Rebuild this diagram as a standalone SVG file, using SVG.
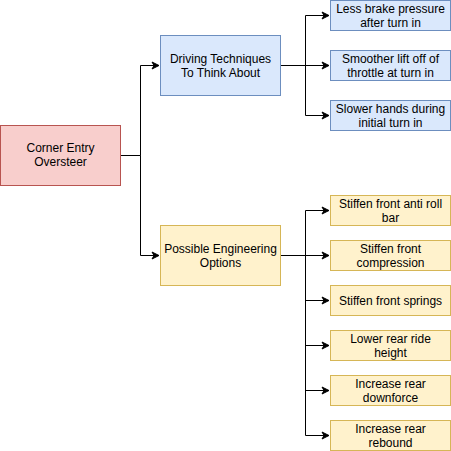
<svg xmlns="http://www.w3.org/2000/svg" width="451" height="451" viewBox="0 0 451 451">
<style>
text{font-family:"Liberation Sans",Arial,Helvetica,sans-serif;font-size:12px;fill:#000;text-anchor:middle}
.blue{fill:#dae8fc;stroke:#6c8ebf;stroke-width:1}
.yel{fill:#fff2cc;stroke:#d6b656;stroke-width:1}
.red{fill:#f8cecc;stroke:#b85450;stroke-width:1}
.c{fill:none;stroke:#000;stroke-width:1;marker-end:url(#arr)}
</style>
<defs>
<marker id="arr" markerWidth="10" markerHeight="10" refX="8" refY="5" orient="auto" markerUnits="userSpaceOnUse">
<path d="M1,1.5 L8,5 L1,8.5 L3,5 Z" fill="#000" stroke="#000" stroke-width="1"/>
</marker>
</defs>
<rect width="451" height="451" fill="#fff"/>
<g id="connectors">
<path class="c" d="M120.5,155.5 H140.5 V65.5 H159"/>
<path class="c" d="M120.5,155.5 H140.5 V255.5 H159"/>
<path class="c" d="M280.5,65.5 H305.5 V15.5 H329"/>
<path class="c" d="M280.5,65.5 H329"/>
<path class="c" d="M280.5,65.5 H305.5 V115.5 H329"/>
<path class="c" d="M280.5,255.5 H305.5 V210.5 H329"/>
<path class="c" d="M280.5,255.5 H329"/>
<path class="c" d="M280.5,255.5 H305.5 V300.5 H329"/>
<path class="c" d="M280.5,255.5 H305.5 V345.5 H329"/>
<path class="c" d="M280.5,255.5 H305.5 V390.5 H329"/>
<path class="c" d="M280.5,255.5 H305.5 V435.5 H329"/>
</g>
<g id="corner"><rect class="red" x="0.5" y="125.5" width="120" height="60"/><text x="60.5" y="152">Corner Entry</text><text x="60.5" y="166">Oversteer</text></g>
<g id="driving"><rect class="blue" x="160.5" y="35.5" width="120" height="60"/><text x="220.5" y="62.5">Driving Techniques</text><text x="220.5" y="76.5">To Think About</text></g>
<g id="engineering"><rect class="yel" x="160.5" y="225.5" width="120" height="60"/><text x="220.5" y="252.5">Possible Engineering</text><text x="220.5" y="266.5">Options</text></g>
<g id="d1"><rect class="blue" x="330.5" y="0.5" width="120" height="30"/><text x="390.5" y="12.5">Less brake pressure</text><text x="390.5" y="26.5">after turn in</text></g>
<g id="d2"><rect class="blue" x="330.5" y="50.5" width="120" height="30"/><text x="390.5" y="62.5">Smoother lift off of</text><text x="390.5" y="76.5">throttle at turn in</text></g>
<g id="d3"><rect class="blue" x="330.5" y="100.5" width="120" height="30"/><text x="390.5" y="112.5">Slower hands during</text><text x="390.5" y="126.5">initial turn in</text></g>
<g id="e1"><rect class="yel" x="330.5" y="195.5" width="120" height="30"/><text x="390.5" y="207.5">Stiffen front anti roll</text><text x="390.5" y="221.5">bar</text></g>
<g id="e2"><rect class="yel" x="330.5" y="240.5" width="120" height="30"/><text x="390.5" y="252.5">Stiffen front</text><text x="390.5" y="266.5">compression</text></g>
<g id="e3"><rect class="yel" x="330.5" y="285.5" width="120" height="30"/><text x="390.5" y="304.5">Stiffen front springs</text></g>
<g id="e4"><rect class="yel" x="330.5" y="330.5" width="120" height="30"/><text x="390.5" y="342.5">Lower rear ride</text><text x="390.5" y="356.5">height</text></g>
<g id="e5"><rect class="yel" x="330.5" y="375.5" width="120" height="30"/><text x="390.5" y="387.5">Increase rear</text><text x="390.5" y="401.5">downforce</text></g>
<g id="e6"><rect class="yel" x="330.5" y="420.5" width="120" height="30"/><text x="390.5" y="432.5">Increase rear</text><text x="390.5" y="446.5">rebound</text></g>
</svg>
